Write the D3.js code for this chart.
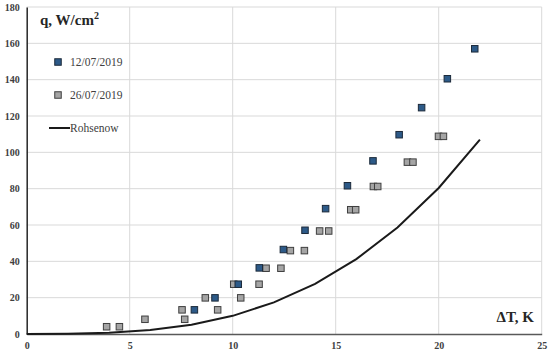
<!DOCTYPE html>
<html><head><meta charset="utf-8">
<script src="https://cdn.jsdelivr.net/npm/d3@7"></script>
<style>body{margin:0;background:#fff}</style>
</head><body>
<svg id="c" width="550" height="353"></svg>
<script>
const xTicks = [0, 5, 10, 15, 20, 25];
const yTicks = [0, 20, 40, 60, 80, 100, 120, 140, 160, 180];
const seriesNames = ["12/07/2019", "26/07/2019", "Rohsenow"];
const s1x = [8.14, 9.14, 10.27, 11.29, 12.46, 13.51, 14.51, 15.57, 16.81, 18.08, 19.17, 20.42, 21.75];
const s1y = [13.3, 19.9, 27.4, 36.4, 46.5, 57.1, 69.0, 81.6, 95.3, 109.7, 124.6, 140.5, 157.0];
const s2x = [3.88, 4.50, 5.74, 7.54, 7.67, 8.67, 9.27, 10.05, 10.39, 11.28, 11.62, 12.34, 12.80, 13.48, 14.22, 14.66, 15.73, 15.97, 16.83, 17.04, 18.48, 18.75, 19.99, 20.23];
const s2y = [4.0, 4.0, 8.1, 13.3, 8.1, 19.9, 13.3, 27.4, 19.9, 27.4, 36.2, 36.2, 45.9, 45.9, 56.7, 56.7, 68.4, 68.4, 81.2, 81.2, 94.6, 94.6, 108.8, 108.8];
const rx = [0, 2, 4, 6, 8, 10, 12, 14, 16, 18, 20, 22];
const ry = [0, 0.08, 0.64, 2.2, 5.1, 10.0, 17.4, 27.6, 41.2, 58.6, 80.4, 107.0];

const svg = d3.select("#c");
const L = 26.7, R = 541.7, T = 7, B = 334;
const x = d3.scaleLinear().domain([0, 25]).range([L, R]);
const y = d3.scaleLinear().domain([0, 180]).range([B, T]);

// gridlines
svg.append("g").selectAll("line").data(yTicks.slice(1)).join("line")
  .attr("x1", L).attr("x2", R).attr("y1", d => y(d)).attr("y2", d => y(d))
  .attr("stroke", "#d9d9d9").attr("stroke-width", 1);
svg.append("g").selectAll("line").data(xTicks.slice(1)).join("line")
  .attr("y1", T).attr("y2", B).attr("x1", d => x(d)).attr("x2", d => x(d))
  .attr("stroke", "#d9d9d9").attr("stroke-width", 1);

// axes
const font = "'Liberation Serif','Times New Roman',serif";
const ax = svg.append("g").attr("transform", `translate(0,${B})`)
  .call(d3.axisBottom(x).tickValues(xTicks).tickSize(0).tickPadding(8));
ax.select(".domain").attr("stroke", "#595959").attr("stroke-width", 1.5);
ax.selectAll("text").attr("font-family", font).attr("font-weight", "bold").attr("font-size", 10).attr("fill", "#404040");
const ay = svg.append("g").attr("transform", `translate(${L},0)`)
  .call(d3.axisLeft(y).tickValues(yTicks).tickSize(0).tickPadding(7));
ay.select(".domain").attr("stroke", "#262626").attr("stroke-width", 1.5);
ay.selectAll("text").attr("font-family", font).attr("font-weight", "bold").attr("font-size", 10).attr("fill", "#404040");

// Rohsenow line
const line = d3.line().x(d => x(d[0])).y(d => y(d[1]));
svg.append("path").datum(rx.map((v, i) => [v, ry[i]]))
  .attr("d", line).attr("fill", "none").attr("stroke", "#1a1a1a").attr("stroke-width", 2);

// markers
const ms = 6.5;
function markers(xs, ys, fill, stroke) {
  svg.append("g").selectAll("rect").data(xs.map((v, i) => [v, ys[i]])).join("rect")
    .attr("x", d => x(d[0]) - ms / 2).attr("y", d => y(d[1]) - ms / 2)
    .attr("width", ms).attr("height", ms)
    .attr("fill", fill).attr("stroke", stroke).attr("stroke-width", 1);
}
markers(s2x, s2y, "#a5a5a5", "#3f3f3f");
markers(s1x, s1y, "#2d5a88", "#1c2a3a");

// titles
const qt = svg.append("text").attr("x", 40).attr("y", 25).attr("font-family", font)
  .attr("font-weight", "bold").attr("font-size", 15).attr("fill", "#262626");
qt.append("tspan").text("q, W/cm");
qt.append("tspan").attr("font-size", 10).attr("dy", -6).text("2");
svg.append("text").attr("x", 534).attr("y", 322).attr("text-anchor", "end").attr("font-family", font)
  .attr("font-weight", "bold").attr("font-size", 15).attr("fill", "#262626").text("ΔT, K");

// legend
const lg = svg.append("g").attr("font-family", font).attr("font-size", 11.5).attr("fill", "#404040");
lg.append("rect").attr("x", 58 - ms / 2).attr("y", 62 - ms / 2).attr("width", ms).attr("height", ms)
  .attr("fill", "#2d5a88").attr("stroke", "#1c2a3a");
lg.append("text").attr("x", 70).attr("y", 66).text(seriesNames[0]);
lg.append("rect").attr("x", 58 - ms / 2).attr("y", 95 - ms / 2).attr("width", ms).attr("height", ms)
  .attr("fill", "#a5a5a5").attr("stroke", "#3f3f3f");
lg.append("text").attr("x", 70).attr("y", 99).text(seriesNames[1]);
lg.append("line").attr("x1", 49).attr("x2", 70).attr("y1", 128).attr("y2", 128)
  .attr("stroke", "#1a1a1a").attr("stroke-width", 2);
lg.append("text").attr("x", 70).attr("y", 132).text(seriesNames[2]);
</script>
</body></html>
